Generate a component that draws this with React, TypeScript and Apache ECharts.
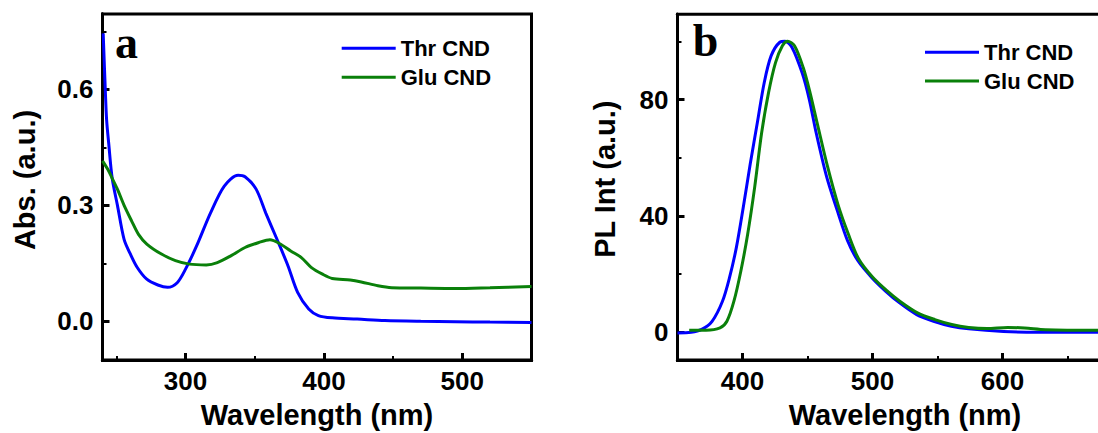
import React, { useEffect, useRef } from "react";
import * as echarts from "echarts";

// Panel a: absorption
const absThrWl = [240.5, 242, 243, 244.5, 247, 250.8, 255.6, 260, 265, 272, 280, 287, 294, 300, 308, 318, 328, 338, 343, 351, 358, 366, 374, 381, 389, 396, 406, 424, 444, 470, 495, 520, 550];
const absThrVal = [0.745, 0.6, 0.52, 0.46, 0.37, 0.3, 0.212, 0.175, 0.14, 0.109, 0.094, 0.088, 0.1, 0.135, 0.195, 0.28, 0.35, 0.378, 0.374, 0.342, 0.28, 0.213, 0.144, 0.075, 0.032, 0.015, 0.009, 0.006, 0.002, 0, -0.001, -0.002, -0.003];
const absGluWl = [240, 244, 247, 251, 255.6, 261, 266, 272, 282.6, 292.7, 302.8, 315, 323, 333, 343, 353, 361, 368.5, 376, 383.7, 391, 399, 406, 419, 427, 439, 449, 470, 495, 520, 550];
const absGluVal = [0.415, 0.392, 0.37, 0.34, 0.3, 0.26, 0.225, 0.2, 0.174, 0.157, 0.148, 0.146, 0.152, 0.17, 0.191, 0.204, 0.211, 0.2, 0.182, 0.165, 0.139, 0.122, 0.111, 0.107, 0.102, 0.092, 0.087, 0.086, 0.085, 0.087, 0.09];

// Panel b: photoluminescence
const plThrWl = [350, 360.5, 368.6, 376.6, 384.6, 390, 395.3, 400.6, 406, 411.4, 416.7, 422, 428.7, 432.7, 438, 446, 451.4, 456.7, 464.7, 472.8, 480.8, 488.8, 499.5, 510, 520.6, 534, 547, 560.7, 574, 600.7, 627, 672, 700];
const plThrVal = [-0.2, 0, 1, 3.8, 10.7, 18.8, 29.2, 43, 58, 72, 85.8, 95, 99.7, 100, 98, 89, 80, 68.5, 53.5, 42, 31.5, 24.6, 18.8, 14.2, 10.2, 6.1, 3.8, 2.1, 1.2, 0.3, 0, 0, 0];
const plGluWl = [359, 372, 382.7, 388, 393.4, 398.7, 404, 409.4, 414.7, 420, 425.4, 430.7, 434.7, 440, 446.7, 452, 457.4, 465.4, 473.4, 481.4, 489.4, 500, 510.8, 521, 534.6, 548, 561, 574, 588, 604, 617, 633, 672, 700];
const plGluVal = [0.7, 0.7, 1.5, 3.8, 10.7, 21, 33.8, 50, 68.5, 82.3, 92.7, 98.5, 100, 98.5, 91, 82.3, 72, 57, 44, 33.8, 25.2, 19, 14.4, 10.7, 6.7, 4.4, 2.7, 1.7, 1.3, 1.7, 1.5, 0.9, 0.7, 0.7];

const seriesNames = ["Thr CND", "Glu CND"];
const seriesColors = ["#0000ff", "#0a800a"];

const absXTicks = [300, 400, 500];
const absXMinor = [250, 350, 450];
const absYTicks = [0, 0.3, 0.6];
const absYMinor = [0.15, 0.45, 0.75];
const plXTicks = [400, 500, 600];
const plXMinor = [450, 550, 650];
const plYTicks = [0, 40, 80];
const plYMinor = [20, 60, 100];

const SANS = "'Liberation Sans', Arial, sans-serif";
const SERIF = "'Liberation Serif', 'Times New Roman', serif";

const zip = (xs: number[], ys: number[]) => xs.map((x, i) => [x, ys[i]]);

const axisLineStyle = { show: true, onZero: false, lineStyle: { color: "#000", width: 3 } };

function labelX(grid: number, min: number, max: number, ticks: number[]) {
  return {
    type: "value",
    gridIndex: grid,
    position: "bottom",
    min,
    max,
    axisLine: axisLineStyle,
    splitLine: { show: false },
    axisTick: { show: false },
    axisLabel: { customValues: ticks, color: "#000", fontSize: 26, fontWeight: "bold", fontFamily: SANS, margin: 8 },
    name: "Wavelength (nm)",
    nameLocation: "middle",
    nameGap: 40,
    nameTextStyle: { color: "#000", fontSize: 29, fontWeight: "bold", fontFamily: SANS },
  };
}
function tickX(grid: number, min: number, max: number, ticks: number[], len: number, w: number) {
  return {
    type: "value",
    gridIndex: grid,
    position: "bottom",
    offset: 0,
    min,
    max,
    axisLine: axisLineStyle,
    splitLine: { show: false },
    axisLabel: { show: false },
    axisTick: { show: true, inside: true, length: len, customValues: ticks, lineStyle: { color: "#000", width: w } },
  };
}
function labelY(grid: number, min: number, max: number, ticks: number[], name: string, fmt: (v: number) => string, gap: number, shift: number) {
  return {
    type: "value",
    gridIndex: grid,
    position: "left",
    min,
    max,
    axisLine: axisLineStyle,
    splitLine: { show: false },
    axisTick: { show: false },
    axisLabel: { customValues: ticks, formatter: fmt, color: "#000", fontSize: 26, fontWeight: "bold", fontFamily: SANS, margin: 9 },
    name,
    nameLocation: "middle",
    nameGap: gap,
    nameTextStyle: { color: "#000", fontSize: 29, fontWeight: "bold", fontFamily: SANS, padding: [0, 0, 0, shift] },
  };
}
function tickY(grid: number, min: number, max: number, ticks: number[], len: number, w: number) {
  return {
    type: "value",
    gridIndex: grid,
    position: "left",
    offset: 0,
    min,
    max,
    axisLine: axisLineStyle,
    splitLine: { show: false },
    axisLabel: { show: false },
    axisTick: { show: true, inside: true, length: len, customValues: ticks, lineStyle: { color: "#000", width: w } },
  };
}

function line(name: string, color: string, data: number[][], xi: number, yi: number) {
  return {
    type: "line",
    name,
    data,
    xAxisIndex: xi,
    yAxisIndex: yi,
    showSymbol: false,
    symbol: "none",
    smooth: 0.3,
    color,
    lineStyle: { color, width: 3 },
  };
}

function legend(left: number, top: number, gap: number) {
  return {
    left,
    top,
    padding: 0,
    orient: "vertical",
    icon: "rect",
    itemWidth: 54,
    itemHeight: 3,
    itemGap: gap,
    selectedMode: false,
    data: seriesNames,
    textStyle: { color: "#000", fontSize: 22, fontWeight: "bold", fontFamily: SANS },
  };
}

export default function App() {
  const ref = useRef<HTMLDivElement>(null);
  useEffect(() => {
    if (!ref.current) return;
    const chart = echarts.init(ref.current, null, { renderer: "svg" });
    chart.setOption({
      animation: false,
      backgroundColor: "#fff",
      grid: [
        { left: 102.5, top: 14, width: 429, height: 346, show: true, borderColor: "#000", borderWidth: 3, outerBoundsMode: "none" },
        { left: 677.5, top: 14.3, width: 455, height: 345.7, show: true, borderColor: "#000", borderWidth: 3, outerBoundsMode: "none" },
      ],
      xAxis: [
        labelX(0, 240, 550, absXTicks),
        tickX(0, 240, 550, absXTicks, 7, 3),
        tickX(0, 240, 550, absXMinor, 4, 2),
        labelX(1, 350, 700, plXTicks),
        tickX(1, 350, 700, plXTicks, 7, 3),
        tickX(1, 350, 700, plXMinor, 4, 2),
      ],
      yAxis: [
        labelY(0, -0.1, 0.795, absYTicks, "Abs. (a.u.)", (v: number) => v.toFixed(1), 63, 14),
        tickY(0, -0.1, 0.795, absYTicks, 7, 3),
        tickY(0, -0.1, 0.795, absYMinor, 4, 2),
        labelY(1, -9.5, 109.3, plYTicks, "PL Int (a.u.)", (v: number) => String(Math.round(v)), 58, 16),
        tickY(1, -9.5, 109.3, plYTicks, 7, 3),
        tickY(1, -9.5, 109.3, plYMinor, 4, 2),
      ],
      legend: [legend(341.7, 37.3, 7), legend(925, 41.3, 6.7)],
      graphic: [
        { type: "text", left: 115, top: 19, style: { text: "a", font: `bold 46px ${SERIF}`, fill: "#000" } },
        { type: "text", left: 692.7, top: 17, style: { text: "b", font: `bold 46px ${SERIF}`, fill: "#000" } },
      ],
      series: [
        line(seriesNames[0], seriesColors[0], zip(absThrWl, absThrVal), 0, 0),
        line(seriesNames[1], seriesColors[1], zip(absGluWl, absGluVal), 0, 0),
        line(seriesNames[0], seriesColors[0], zip(plThrWl, plThrVal), 3, 3),
        line(seriesNames[1], seriesColors[1], zip(plGluWl, plGluVal), 3, 3),
      ],
    });
    return () => chart.dispose();
  }, []);
  return <div ref={ref} style={{ position: "absolute", left: 0, top: 0, width: 1098, height: 433 }} />;
}
